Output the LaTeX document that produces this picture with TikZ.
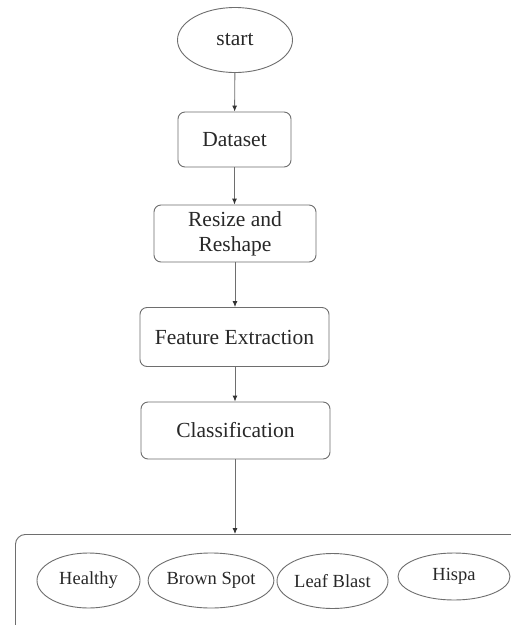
\documentclass[tikz,border=0pt]{standalone}
\usepackage{fontspec}
\setmainfont{Liberation Serif}
\usetikzlibrary{shapes.geometric,arrows.meta}
\definecolor{linegray}{RGB}{110,110,110}
\definecolor{textgray}{RGB}{40,40,40}
\begin{document}
\begin{tikzpicture}[x=1pt,y=-1pt,
  base/.style={draw=linegray,line width=0.9pt,text=textgray,inner sep=0pt,align=center},
  stepbox/.style={base,rectangle,rounded corners=7pt,font=\fontsize{21.5}{25}\selectfont},
  oval/.style={base,ellipse,font=\fontsize{21.5}{25}\selectfont},
  leaf/.style={base,ellipse,font=\fontsize{18.5}{22}\selectfont},
  arr/.style={draw=linegray,line width=0.9pt,-{Latex[length=6pt,width=5pt,color=black!80]}}]
\useasboundingbox (0,0) rectangle (511,625);
\fill[white] (0,0) rectangle (511,625);
\begin{scope}
\clip (0,0) rectangle (511,625);
\node[oval,minimum width=115pt,minimum height=65pt] (start) at (235,40) {start};
\node[stepbox,minimum width=113pt,minimum height=55pt] (data) at (234.5,139.5) {Dataset};
\node[stepbox,minimum width=162pt,minimum height=57pt] (resize) at (235,233.5) {Resize and\\Reshape};
\node[stepbox,minimum width=189pt,minimum height=59pt] (feat) at (234.5,337) {Feature Extraction};
\node[stepbox,minimum width=189pt,minimum height=57pt] (cls) at (235.5,430.5) {Classification};
\node[base,rectangle,rounded corners=10pt,minimum width=515pt,minimum height=120pt,anchor=north west] (out) at (15,534) {};
\node[leaf,minimum width=103pt,minimum height=55pt] (healthy) at (88.5,580.5) {Healthy};
\node[leaf,minimum width=114pt,minimum height=55pt] (brown) at (211,580.5) {Brown Spot};
\node[leaf,minimum width=111pt,minimum height=55pt] (blast) at (332.5,581) {Leaf Blast};
\node[leaf,minimum width=112pt,minimum height=47pt] (hispa) at (454,576.5) {Hispa};
\coordinate (outtop) at (235,534);
\draw[arr] (start) -- (data);
\draw[arr] (data.south) -- (resize.north -| data.south);
\draw[arr] (resize.south) -- (feat.north -| resize.south);
\draw[arr] (feat.south -| resize.south) -- (cls.north -| resize.south);
\draw[arr] (cls.south -| resize.south) -- (outtop);
\end{scope}
\end{tikzpicture}
\end{document}
